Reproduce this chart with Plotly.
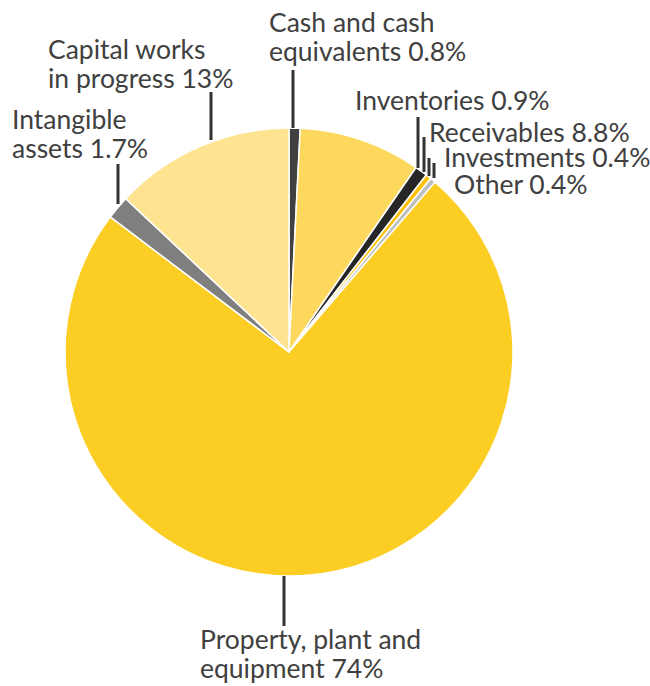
import plotly.graph_objects as go

# Asset composition
categories = [
    "Cash and cash equivalents",
    "Receivables",
    "Inventories",
    "Investments",
    "Other",
    "Property, plant and equipment",
    "Intangible assets",
    "Capital works in progress",
]
shares = [0.8, 8.8, 0.9, 0.4, 0.4, 74, 1.7, 13]
label_lines = [
    ["Cash and cash", "equivalents 0.8%"],
    ["Receivables 8.8%"],
    ["Inventories 0.9%"],
    ["Investments 0.4%"],
    ["Other 0.4%"],
    ["Property, plant and", "equipment 74%"],
    ["Intangible", "assets 1.7%"],
    ["Capital works", "in progress 13%"],
]
colors = ["#404040", "#FDD85C", "#262626", "#FFC000", "#BFBFBF",
          "#FCCD23", "#7F7F7F", "#FEE390"]

W, H = 650, 686
CX, CY, R = 289, 352, 224
LINE_GAP = 28.5

fig = go.Figure(go.Pie(
    labels=categories,
    values=shares,
    sort=False,
    direction="clockwise",
    rotation=0,
    marker=dict(colors=colors, line=dict(color="white", width=1.5)),
    textinfo="none",
    hoverinfo="label+percent",
    showlegend=False,
    domain=dict(x=[(CX - R) / W, (CX + R) / W],
                y=[1 - (CY + R) / H, 1 - (CY - R) / H]),
))

def px(x):
    return x / W

def py(y):
    return 1 - y / H

# label placement (left edge, centre of first line) and leader lines
label_pos = {
    "Cash and cash equivalents": (267, 22),
    "Receivables": (427, 132),
    "Inventories": (353, 100),
    "Investments": (442, 157),
    "Other": (452, 184),
    "Property, plant and equipment": (198, 639),
    "Intangible assets": (10, 119),
    "Capital works in progress": (46, 49),
}
leaders = {
    "Cash and cash equivalents": (293, 128, 70),
    "Receivables": (424, 172, 137),
    "Inventories": (418, 168, 117),
    "Investments": (429, 176, 158),
    "Other": (434, 178, 163),
    "Property, plant and equipment": (284, 576, 626),
    "Intangible assets": (118, 204, 164),
    "Capital works in progress": (211, 140, 92),
}

shapes = []
for name, (x, y0, y1) in leaders.items():
    shapes.append(dict(type="line", xref="paper", yref="paper",
                       x0=px(x), x1=px(x), y0=py(y0), y1=py(y1),
                       line=dict(color="#333333", width=3)))

annotations = []
for name, lines in zip(categories, label_lines):
    x, y = label_pos[name]
    for i, line in enumerate(lines):
        annotations.append(dict(
            text=line, x=px(x), y=py(y + i * LINE_GAP),
            xref="paper", yref="paper",
            xanchor="left", yanchor="middle", align="left", showarrow=False,
            font=dict(family="Lato, Open Sans, sans-serif", size=26.5,
                      color="#404040"),
        ))

fig.update_layout(
    width=W, height=H,
    margin=dict(l=0, r=0, t=0, b=0),
    paper_bgcolor="white",
    plot_bgcolor="white",
    shapes=shapes,
    annotations=annotations,
)

fig.write_html("out.html")
